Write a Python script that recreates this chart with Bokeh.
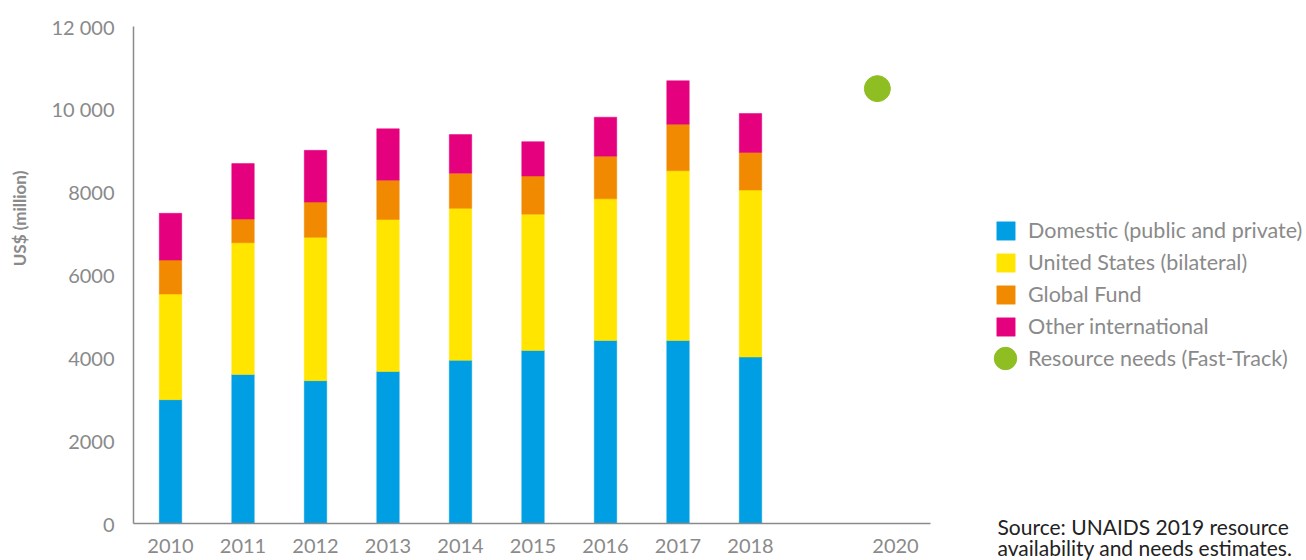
import math
from bokeh.plotting import figure
from bokeh.models import Legend, LegendItem, Label, ColumnDataSource, FixedTicker, Range1d
from bokeh.transform import dodge
from bokeh.embed import file_html
from bokeh.resources import INLINE

# ---- data (US$ million) ----
years = [2010, 2011, 2012, 2013, 2014, 2015, 2016, 2017, 2018]
domestic = [2990, 3600, 3450, 3670, 3940, 4180, 4420, 4420, 4020]
united_states = [2550, 3180, 3460, 3670, 3670, 3290, 3420, 4100, 4030]
global_fund = [820, 570, 850, 950, 850, 920, 1030, 1120, 910]
other_international = [1130, 1340, 1250, 1240, 930, 830, 940, 1050, 940]
need_years = [2020]
need_values = [10500]

series_names = ["Domestic (public and private)", "United States (bilateral)",
                "Global Fund", "Other international"]
need_name = "Resource needs (Fast-Track)"
y_title = "US$ (million)"
y_ticks = [0, 2000, 4000, 6000, 8000, 10000, 12000]
y_tick_labels = ["0", "2000", "4000", "6000", "8000", "10 000", "12 000"]
x_ticks = [2010, 2011, 2012, 2013, 2014, 2015, 2016, 2017, 2018, 2020]
source_lines = ["Source: UNAIDS 2019 resource", "availability and needs estimates."]

colors = ["#009FE3", "#FFE500", "#F18A00", "#E5007E"]
green = "#8FBE22"
grey = "#8a8a8a"
FONT = "Lato"

W, H = 1306, 560

src = ColumnDataSource(dict(year=years, domestic=domestic, us=united_states,
                            gf=global_fund, other=other_international))
need_src = ColumnDataSource(dict(year=need_years, need=need_values))

# frame covers the whole canvas; axes are pinned inside it
p = figure(width=W, height=H, output_backend="svg", toolbar_location=None,
           x_range=Range1d(2007.655, 2025.669), y_range=Range1d(-893, 12628),
           min_border=0)
p.outline_line_color = None
p.xgrid.grid_line_color = None
p.ygrid.grid_line_color = None

bars = p.vbar_stack(["domestic", "us", "gf", "other"], x="year", width=0.31,
                    source=src, fill_color=colors, line_color=colors, line_width=0.5)

dot = p.ellipse(x=dodge("year", -0.25), y="need", width=26, height=26,
                width_units="screen", height_units="screen", source=need_src,
                fill_color=green, line_color=green)

# axes
for ax in (p.xaxis[0], p.yaxis[0]):
    ax.axis_line_color = grey
    ax.axis_line_width = 1.5
    ax.major_tick_line_color = None
    ax.minor_tick_line_color = None
    ax.major_label_text_color = grey
    ax.major_label_text_font = FONT
    ax.major_label_text_font_size = "20px"

p.yaxis.fixed_location = 2009.49
p.yaxis.bounds = (0, 12000)
p.yaxis.ticker = FixedTicker(ticks=y_ticks)
p.yaxis.major_label_overrides = {t: l for t, l in zip(y_ticks, y_tick_labels)}
p.yaxis.major_label_standoff = 13

p.xaxis.fixed_location = 0
p.xaxis.bounds = (2009.49, 2020.48)
p.xaxis.ticker = FixedTicker(ticks=x_ticks)
p.xaxis.major_label_overrides = {t: str(t) for t in x_ticks}
p.xaxis.major_label_standoff = 9

p.add_layout(Label(x=19, y=H - 218, x_units="screen", y_units="screen", text=y_title,
                   angle=math.pi / 2, text_align="center", text_baseline="middle",
                   text_font=FONT, text_font_style="bold", text_font_size="17px",
                   text_color=grey))

# legends
leg1 = Legend(items=[LegendItem(label=n, renderers=[r]) for n, r in zip(series_names, bars)],
              location=(994, H - 339), orientation="vertical",
              glyph_width=23, glyph_height=23, label_height=23, spacing=6,
              label_standoff=11, padding=0, margin=0,
              border_line_color=None, background_fill_alpha=0,
              label_text_font=FONT, label_text_font_size="21.5px",
              label_text_color=grey)
leg2 = Legend(items=[LegendItem(label=need_name, renderers=[dot])],
              location=(991, H - 372), orientation="vertical",
              glyph_width=28, glyph_height=28, label_height=28,
              label_standoff=9, padding=0, margin=0,
              border_line_color=None, background_fill_alpha=0,
              label_text_font=FONT, label_text_font_size="21.5px",
              label_text_color=grey)
p.add_layout(leg1)
p.add_layout(leg2)

source_baselines = [H - 526, H - 547]
for line, yb in zip(source_lines, source_baselines):
    p.add_layout(Label(x=997, y=yb, x_units="screen", y_units="screen", text=line,
                       text_font=FONT, text_font_size="21px", text_color="#222222",
                       text_baseline="alphabetic"))

open("out.html", "w").write(file_html(p, INLINE))
